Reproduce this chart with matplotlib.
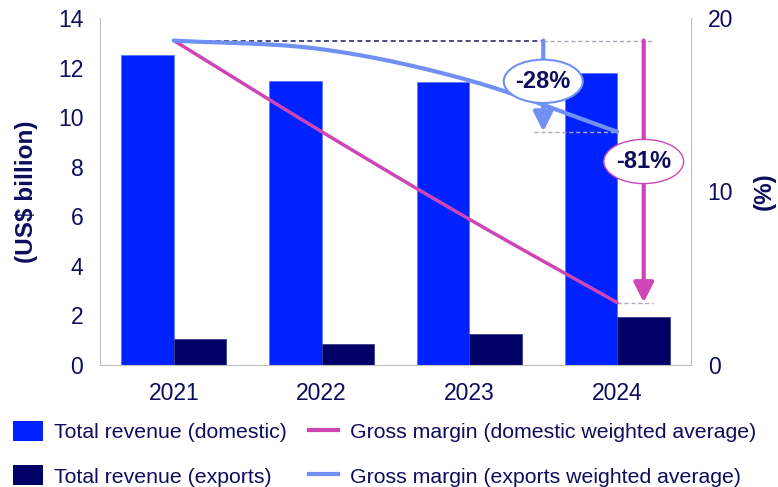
import numpy as np
import matplotlib
matplotlib.use("Agg")
import matplotlib.pyplot as plt
from matplotlib.patches import Ellipse, Patch
from matplotlib.lines import Line2D

# ---- data ----
years = ["2021", "2022", "2023", "2024"]
revenue_domestic = [12.5, 11.45, 11.4, 11.8]      # US$ billion
revenue_exports = [1.05, 0.85, 1.25, 1.95]        # US$ billion
margin_domestic = [18.7, 13.45, 8.4, 3.6]         # %
margin_exports = [18.7, 18.2, 16.4, 13.45]        # %
y_ticks_left = [0, 2, 4, 6, 8, 10, 12, 14]
y_ticks_right = [0, 10, 20]

# ---- style ----
NAVY_TXT = "#0D0D5E"
C_DOM = "#0022FF"
C_EXP = "#000066"
C_MAG = "#CF45B5"
C_LBL = "#7190F4"
GRID_GREY = "#BFBFBF"
DASH_GREY = "#A9A9B8"
DASH_NAVY = "#2E2E70"

plt.rcParams["font.family"] = ["Liberation Sans", "DejaVu Sans"]
plt.rcParams["text.color"] = NAVY_TXT


def smooth(xs, ys, n=40):
    """Catmull-Rom spline through the points (smoothed line rendering)."""
    xs = np.asarray(xs, float)
    ys = np.asarray(ys, float)
    P = np.column_stack([xs, ys])
    P = np.vstack([2 * P[0] - P[1], P, 2 * P[-1] - P[-2]])
    out = []
    for i in range(1, len(P) - 2):
        p0, p1, p2, p3 = P[i - 1], P[i], P[i + 1], P[i + 2]
        t = np.linspace(0, 1, n)[:, None]
        seg = 0.5 * ((2 * p1) + (-p0 + p2) * t + (2 * p0 - 5 * p1 + 4 * p2 - p3) * t ** 2
                     + (-p0 + 3 * p1 - 3 * p2 + p3) * t ** 3)
        out.append(seg if i == len(P) - 3 else seg[:-1])
    out = np.vstack(out)
    return out[:, 0], out[:, 1]


fig = plt.figure(figsize=(7.78, 4.87), dpi=100)
ax = fig.add_axes([100 / 778, 1 - 365 / 487, 591 / 778, 347 / 487])
ax2 = ax.twinx()

x = np.arange(len(years))
w = 0.355
ax.bar(x - w / 2, revenue_domestic, w, color=C_DOM, edgecolor="#5C78FF", linewidth=0.6, zorder=2)
ax.bar(x + w / 2, revenue_exports, w, color=C_EXP, edgecolor="#3A3A8A", linewidth=0.6, zorder=2)

ax.set_xlim(-0.5, 3.5)
ax.set_ylim(0, 14)
ax.set_yticks(y_ticks_left)
ax.set_xticks(x)
ax.set_xticklabels(years)
ax2.set_ylim(0, 20)
ax2.set_yticks(y_ticks_right)

for a in (ax, ax2):
    a.spines["top"].set_visible(False)
    a.tick_params(length=0, labelsize=16.5, colors=NAVY_TXT)
ax.spines["right"].set_visible(False)
ax2.spines["left"].set_visible(False)
ax2.spines["bottom"].set_visible(False)
ax.spines["left"].set_color(GRID_GREY)
ax.spines["bottom"].set_color(GRID_GREY)
ax2.spines["right"].set_color(GRID_GREY)
ax.tick_params(axis="y", pad=12)
ax.tick_params(axis="x", pad=12)
ax2.tick_params(axis="y", pad=12)

ax.set_ylabel("(US$ billion)", fontsize=17.5, fontweight="bold", color=NAVY_TXT, labelpad=14)
ax2.set_ylabel("(%)", fontsize=17.5, fontweight="bold", color=NAVY_TXT, rotation=90, labelpad=14)

# gross margin lines
sx, sy = smooth(x, margin_domestic)
ax2.plot(sx, sy, color=C_MAG, lw=2.5, solid_capstyle="round", zorder=3)
sx, sy = smooth(x, margin_exports)
ax2.plot(sx, sy, color=C_LBL, lw=3.0, solid_capstyle="round", zorder=3)

top = margin_domestic[0]
end_exp = margin_exports[-1]
end_dom = margin_domestic[-1]
x_arrow_exp = 2.5
x_arrow_dom = 3.18

# reference dashed lines
ax2.plot([0, x_arrow_exp], [top, top], ls=(0, (3, 2)), color=DASH_NAVY, lw=1.2, zorder=2)
ax2.plot([x_arrow_exp, 3.24], [top, top], ls=(0, (3, 2)), color=DASH_GREY, lw=1.0, zorder=2)
ax2.plot([2.44, 3.0], [end_exp, end_exp], ls=(0, (3, 2)), color=DASH_GREY, lw=1.0, zorder=2)
ax2.plot([3.0, 3.24], [end_dom, end_dom], ls=(0, (3, 2)), color=DASH_GREY, lw=1.0, zorder=2)

# change arrows
ax2.annotate("", xy=(x_arrow_exp, end_exp), xytext=(x_arrow_exp, top),
             arrowprops=dict(arrowstyle="-|>,head_length=0.8,head_width=0.4", color=C_LBL,
                             lw=3, mutation_scale=15, shrinkA=0, shrinkB=0), zorder=4)
ax2.annotate("", xy=(x_arrow_dom, end_dom), xytext=(x_arrow_dom, top),
             arrowprops=dict(arrowstyle="-|>,head_length=0.8,head_width=0.4", color=C_MAG,
                             lw=3, mutation_scale=15, shrinkA=0, shrinkB=0), zorder=4)

pct_exp = round((end_exp / top - 1) * 100)
pct_dom = round((end_dom / top - 1) * 100)

ax2.add_patch(Ellipse((x_arrow_exp, 16.35), 0.535, 2.5, facecolor="white",
                      edgecolor=C_LBL, lw=1.5, zorder=5))
ax2.text(x_arrow_exp, 16.35, f"{pct_exp}%", ha="center", va="center", fontsize=17,
         fontweight="bold", color=NAVY_TXT, zorder=6)
ax2.add_patch(Ellipse((x_arrow_dom, 11.73), 0.54, 2.55, facecolor="white",
                      edgecolor=C_MAG, lw=1.0, zorder=5))
ax2.text(x_arrow_dom, 11.73, f"{pct_dom}%", ha="center", va="center", fontsize=17,
         fontweight="bold", color=NAVY_TXT, zorder=6)

# legend
handles = [
    Patch(facecolor=C_DOM, edgecolor="none"),
    Patch(facecolor=C_EXP, edgecolor="none"),
    Line2D([], [], color=C_MAG, lw=3),
    Line2D([], [], color=C_LBL, lw=3),
]
labels = [
    "Total revenue (domestic)",
    "Total revenue (exports)",
    "Gross margin (domestic weighted average)",
    "Gross margin (exports weighted average)",
]
fig.legend(handles, labels, loc="upper left", bbox_to_anchor=(13 / 778, 1 - 421 / 487),
           ncol=2, frameon=False, fontsize=15.3, handlelength=1.4, handleheight=1.05,
           handletextpad=0.55, columnspacing=1.0, labelspacing=1.1, borderpad=0,
           borderaxespad=0, labelcolor=NAVY_TXT)

fig.savefig("out.png", dpi=100)
